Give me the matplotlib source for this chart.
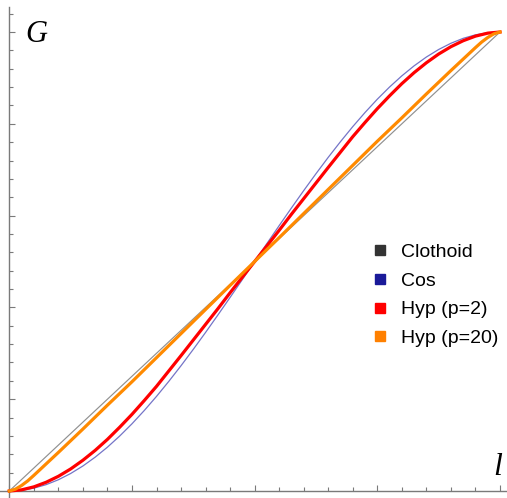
import matplotlib
matplotlib.use("Agg")
import matplotlib.pyplot as plt
from matplotlib.lines import Line2D
from matplotlib.ticker import MultipleLocator

# ── Data ───────────────────────────────────────────────────────────────────────
L = [0.000, 0.025, 0.050, 0.075, 0.100, 0.125, 0.150, 0.175, 0.200, 0.225, 0.250,
     0.275, 0.300, 0.325, 0.350, 0.375, 0.400, 0.425, 0.450, 0.475, 0.500,
     0.525, 0.550, 0.575, 0.600, 0.625, 0.650, 0.675, 0.700, 0.725, 0.750,
     0.775, 0.800, 0.825, 0.850, 0.875, 0.900, 0.925, 0.950, 0.975, 1.000]

L_CLOTHOID = [0.0, 0.5, 1.0]
G_CLOTHOID = [0.0, 0.5, 1.0]

G_COS = [0.0, 0.0015, 0.0062, 0.0138, 0.0245, 0.0381, 0.0545, 0.0737, 0.0955, 0.1198, 0.1464,
         0.1753, 0.2061, 0.2388, 0.2730, 0.3087, 0.3455, 0.3833, 0.4218, 0.4608, 0.5000,
         0.5392, 0.5782, 0.6167, 0.6545, 0.6913, 0.7270, 0.7612, 0.7939, 0.8247, 0.8536,
         0.8802, 0.9045, 0.9263, 0.9455, 0.9619, 0.9755, 0.9862, 0.9938, 0.9985, 1.0]

G_HYP2 = [0.0, 0.0025, 0.009, 0.019, 0.032, 0.048, 0.067, 0.0885, 0.1125, 0.139, 0.167,
          0.197, 0.228, 0.2615, 0.295, 0.329, 0.363, 0.397, 0.432, 0.466, 0.500,
          0.534, 0.568, 0.603, 0.637, 0.671, 0.705, 0.7385, 0.772, 0.803, 0.833,
          0.861, 0.8875, 0.9115, 0.933, 0.952, 0.968, 0.981, 0.991, 0.9975, 1.0]

L_HYP20 = [0.0, 0.0125, 0.025, 0.0375, 0.05, 0.10, 0.15, 0.20, 0.25, 0.30, 0.35, 0.40, 0.45, 0.50,
           0.55, 0.60, 0.65, 0.70, 0.75, 0.80, 0.85, 0.90, 0.95, 0.9625, 0.975, 0.9875, 1.0]
G_HYP20 = [0.0, 0.004, 0.012, 0.022, 0.034, 0.084, 0.135, 0.187, 0.238, 0.2905, 0.343, 0.3955, 0.448, 0.5,
           0.552, 0.6045, 0.657, 0.7095, 0.762, 0.813, 0.865, 0.916, 0.966, 0.978, 0.988, 0.996, 1.0]

LABELS = ["Clothoid", "Cos", "Hyp (p=2)", "Hyp (p=20)"]

C_AXIS = "#7a7a7a"

# ── Figure ─────────────────────────────────────────────────────────────────────
fig = plt.figure(figsize=(5.07, 4.98), dpi=100)
ax = fig.add_axes([0, 0, 1, 1])
ax.set_xlim(-0.01895, 1.01427)
ax.set_ylim(-0.01525, 1.06972)

ax.plot(L_CLOTHOID, G_CLOTHOID, color="#909090", lw=0.85, zorder=2)
ax.plot(L, G_COS, color="#3a3ab0", lw=0.9, alpha=0.7, zorder=3)
ax.plot(L, G_HYP2, color="#ff0000", lw=2.3, zorder=4, solid_joinstyle="round")
ax.plot(L_HYP20, G_HYP20, color="#ff8a00", lw=2.3, zorder=5, solid_joinstyle="round")

# Mathematica-style axes crossing at origin
for s in ["top", "right"]:
    ax.spines[s].set_visible(False)
ax.spines["left"].set_position(("data", 0))
ax.spines["bottom"].set_position(("data", 0))
ax.spines["left"].set_bounds(-0.01525, 1.0545)
for s in ["left", "bottom"]:
    ax.spines[s].set_color(C_AXIS)
    ax.spines[s].set_linewidth(1.0)

ax.xaxis.set_major_locator(MultipleLocator(0.25))
ax.xaxis.set_minor_locator(MultipleLocator(0.05))
ax.yaxis.set_major_locator(MultipleLocator(0.2))
ax.yaxis.set_minor_locator(MultipleLocator(0.04))
ax.tick_params(which="both", direction="in", color=C_AXIS, width=0.8,
               labelbottom=False, labelleft=False)
ax.tick_params(which="major", length=4.4)
ax.tick_params(which="minor", length=2.9)

# axis labels
fig.text(25 / 507, 1 - 42 / 498, "G", fontsize=22, style="italic",
         family="Liberation Serif", ha="left", va="baseline")
fig.text(493 / 507, 1 - 475 / 498, "l", fontsize=23, style="italic",
         family="Liberation Serif", ha="left", va="baseline")

# legend
handles = [
    Line2D([0], [0], ls="none", marker="s", markersize=7, color="#333333"),
    Line2D([0], [0], ls="none", marker="s", markersize=7, color="#1a1a99"),
    Line2D([0], [0], ls="none", marker="s", markersize=7, color="#ff0000"),
    Line2D([0], [0], ls="none", marker="s", markersize=7, color="#ff8000"),
]
ax.legend(handles, LABELS, loc="upper left", bbox_to_anchor=(372.5 / 507, 1 - 243 / 498),
          bbox_transform=fig.transFigure, frameon=False, borderpad=0, borderaxespad=0,
          handlelength=0.8, handletextpad=0.67, labelspacing=0.58,
          prop={"family": "Liberation Sans", "size": 14})

fig.savefig("out.png", dpi=100)
